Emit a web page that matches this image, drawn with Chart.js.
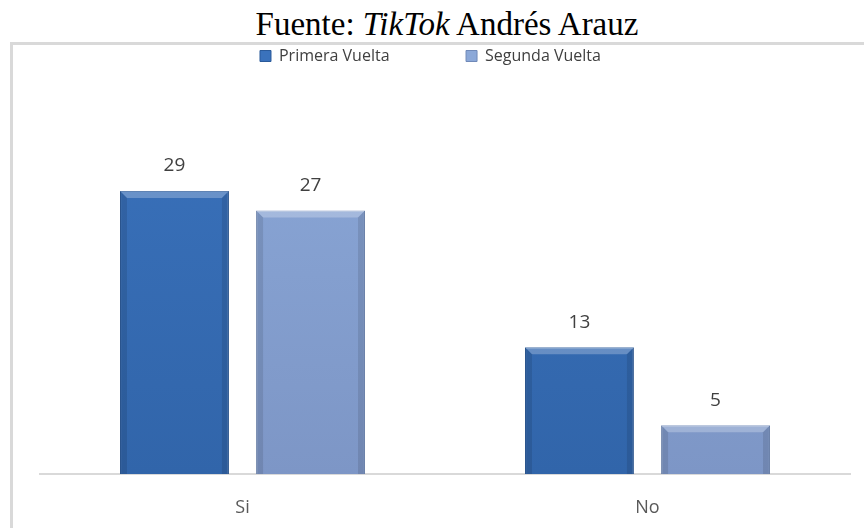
<!DOCTYPE html>
<html>
<head>
<meta charset="utf-8">
<script src="https://cdn.jsdelivr.net/npm/chart.js@4.4.1/dist/chart.umd.min.js"></script>
<style>
  body { margin: 0; background: #fff; overflow: hidden; }
  #titulo {
    position: absolute; left: 30px; top: 5px; width: 834px;
    text-align: center; font: 33px "Liberation Serif", "Times New Roman", serif;
    line-height: 38px; color: #000;
  }
  #marco {
    position: absolute; left: 10px; top: 42px; width: 900px; height: 520px;
    border-left: 3px solid #d9d9d9; border-top: 3px solid #d9d9d9;
  }
  #zona { position: absolute; left: 0; top: 0; width: 864px; height: 528px; }
</style>
</head>
<body>
<div id="titulo">Fuente: <i>TikTok</i> Andrés Arauz</div>
<div id="marco"></div>
<div id="zona"><canvas id="grafico" width="864" height="528"></canvas></div>
<script>
const categorias = ['Si', 'No']
const primeraVuelta = [29, 13]
const segundaVuelta = [27, 5]
const series = ['Primera Vuelta', 'Segunda Vuelta']
const colores = [
  { medio: '#3a72bc', fondo: '#3165aa', oscuro: '#2a5a9a' },
  { medio: '#8ba8d8', fondo: '#7d96c6', oscuro: '#6f89b8' }
]

function degradado(ctx, c) {
  const area = ctx.chart.chartArea
  if (!area) return c.medio
  const g = ctx.chart.ctx.createLinearGradient(0, area.top, 0, area.bottom)
  g.addColorStop(0, c.medio)
  g.addColorStop(1, c.fondo)
  return g
}

// bisel y etiquetas de valores
const relieve = {
  id: 'relieve',
  afterDatasetsDraw(chart) {
    const ctx = chart.ctx
    chart.data.datasets.forEach((ds, i) => {
      const meta = chart.getDatasetMeta(i)
      meta.data.forEach((bar, j) => {
        const x0 = bar.x - bar.width / 2, x1 = bar.x + bar.width / 2
        const y0 = bar.y, y1 = bar.base, b = 7
        ctx.save()
        ctx.fillStyle = 'rgba(255,255,255,0.25)'
        ctx.beginPath()
        ctx.moveTo(x0, y0); ctx.lineTo(x1, y0); ctx.lineTo(x1 - b, y0 + b); ctx.lineTo(x0 + b, y0 + b)
        ctx.fill()
        ctx.fillStyle = 'rgba(0,0,0,0.10)'
        ctx.beginPath()
        ctx.moveTo(x0, y0); ctx.lineTo(x0 + b, y0 + b); ctx.lineTo(x0 + b, y1); ctx.lineTo(x0, y1)
        ctx.fill()
        ctx.beginPath()
        ctx.moveTo(x1, y0); ctx.lineTo(x1 - b, y0 + b); ctx.lineTo(x1 - b, y1); ctx.lineTo(x1, y1)
        ctx.fill()
        ctx.fillStyle = '#404040'
        ctx.font = '19px "Open Sans", Lato, sans-serif'
        ctx.textAlign = 'center'
        ctx.textBaseline = 'middle'
        ctx.fillText(ds.data[j], bar.x, bar.y - 25)
        ctx.restore()
      })
    })
  }
}

new Chart(document.getElementById('grafico'), {
  type: 'bar',
  data: {
    labels: categorias,
    datasets: [
      { label: series[0], data: primeraVuelta, backgroundColor: c => degradado(c, colores[0]),
        borderColor: colores[0].oscuro, borderWidth: 1 },
      { label: series[1], data: segundaVuelta, backgroundColor: c => degradado(c, colores[1]),
        borderColor: colores[1].oscuro, borderWidth: 1 }
    ]
  },
  options: {
    responsive: false,
    animation: false,
    categoryPercentage: 0.672,
    barPercentage: 0.8,
    layout: { padding: { left: 40, right: 14, top: 38, bottom: 10 } },
    plugins: {
      tooltip: { enabled: false },
      legend: {
        position: 'top',
        labels: {
          boxWidth: 11, boxHeight: 11, padding: 10, color: '#404040',
          font: { size: 16, family: '"Open Sans", Lato, sans-serif' },
          generateLabels(chart) {
            return chart.data.datasets.map((ds, i) => ({
              text: i === 0 ? ds.label + '                ' : ds.label + '       ',
              fillStyle: colores[i].medio, strokeStyle: colores[i].oscuro, lineWidth: 1,
              fontColor: '#404040', datasetIndex: i
            }))
          }
        }
      }
    },
    scales: {
      x: {
        grid: { display: false, drawTicks: false },
        border: { color: '#d9d9d9', width: 2 },
        ticks: { padding: 23, color: '#595959', font: { size: 18, family: '"Open Sans", Lato, sans-serif' } },
        afterFit(scale) { scale.height = 44 }
      },
      y: { display: false, min: 0, max: 41 }
    }
  },
  plugins: [relieve]
})
</script>
</body>
</html>
